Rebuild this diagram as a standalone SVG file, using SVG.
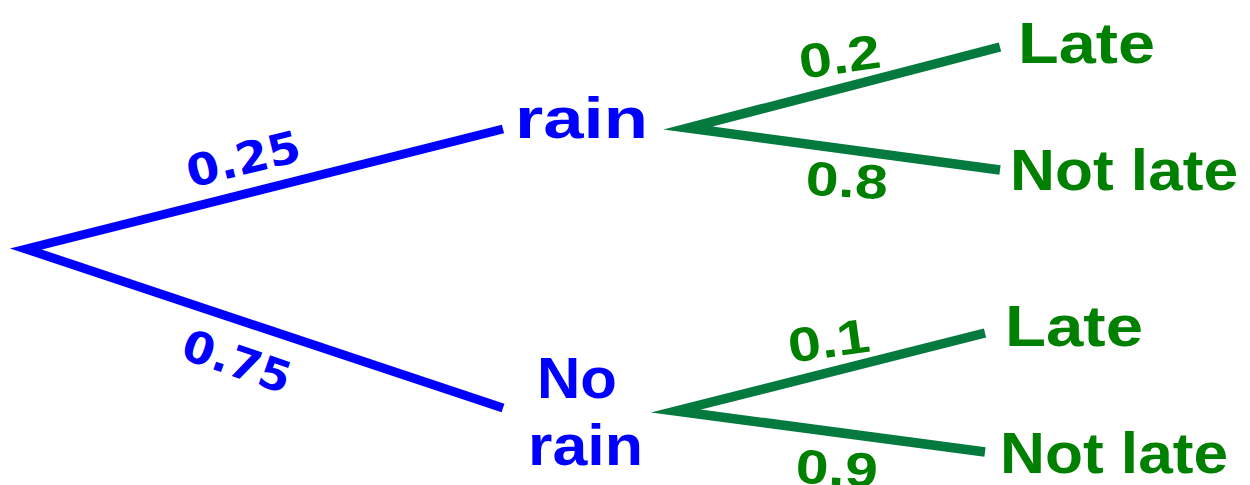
<svg xmlns="http://www.w3.org/2000/svg" width="1250" height="485" viewBox="0 0 1250 485">
<style>
.blue{fill:none;stroke:#0000ff;stroke-width:9;stroke-linejoin:miter;stroke-miterlimit:10}
.green{fill:none;stroke:#047a3e;stroke-width:9.5;stroke-linejoin:miter;stroke-miterlimit:10}
.node{font-family:"Liberation Sans",Arial,sans-serif;font-weight:bold;font-size:58px}
.nb{fill:#0000ff}
.ng{fill:#008000}
.pb{font-family:"DejaVu Sans",sans-serif;font-weight:bold;font-size:44px;fill:#0000ff}
.pg{font-family:"Liberation Sans",Arial,sans-serif;font-weight:bold;font-size:48px;fill:#008000}
</style>
<rect width="1250" height="485" fill="#ffffff"/>
<g id="connectors">
<path class="blue" d="M503,129 L26,249 L503,408"/>
<path class="green" d="M1000,47 L688,128 L1000,170"/>
<path class="green" d="M985,333 L676,411 L985,452"/>
<text class="pb" x="247" y="174" text-anchor="middle" textLength="116" lengthAdjust="spacingAndGlyphs" transform="rotate(-13.8 247 174)">0.25</text>
<text class="pb" x="232" y="376" text-anchor="middle" textLength="112" lengthAdjust="spacingAndGlyphs" transform="rotate(19 232 376)">0.75</text>
<text class="pg" x="842" y="73" text-anchor="middle" textLength="82" lengthAdjust="spacingAndGlyphs" transform="rotate(-8 842 73)">0.2</text>
<text class="pg" x="846" y="197" text-anchor="middle" textLength="82" lengthAdjust="spacingAndGlyphs" transform="rotate(3 846 197)">0.8</text>
<text class="pg" x="831" y="357" text-anchor="middle" textLength="82" lengthAdjust="spacingAndGlyphs" transform="rotate(-8 831 357)">0.1</text>
<text class="pg" x="836" y="485" text-anchor="middle" textLength="82" lengthAdjust="spacingAndGlyphs" transform="rotate(3 836 485)">0.9</text>
</g>
<g id="node-rain"><text class="node nb" x="515" y="138" textLength="133" lengthAdjust="spacingAndGlyphs">rain</text></g>
<g id="node-norain">
<text class="node nb" x="537" y="398" textLength="80" lengthAdjust="spacingAndGlyphs">No</text>
<text class="node nb" x="528" y="465" textLength="115" lengthAdjust="spacingAndGlyphs">rain</text>
</g>
<g id="node-late1"><text class="node ng" x="1018" y="63" textLength="137" lengthAdjust="spacingAndGlyphs">Late</text></g>
<g id="node-notlate1"><text class="node ng" x="1010" y="190" textLength="228" lengthAdjust="spacingAndGlyphs">Not late</text></g>
<g id="node-late2"><text class="node ng" x="1005" y="346" textLength="138" lengthAdjust="spacingAndGlyphs">Late</text></g>
<g id="node-notlate2"><text class="node ng" x="1000" y="473" textLength="228" lengthAdjust="spacingAndGlyphs">Not late</text></g>
</svg>
